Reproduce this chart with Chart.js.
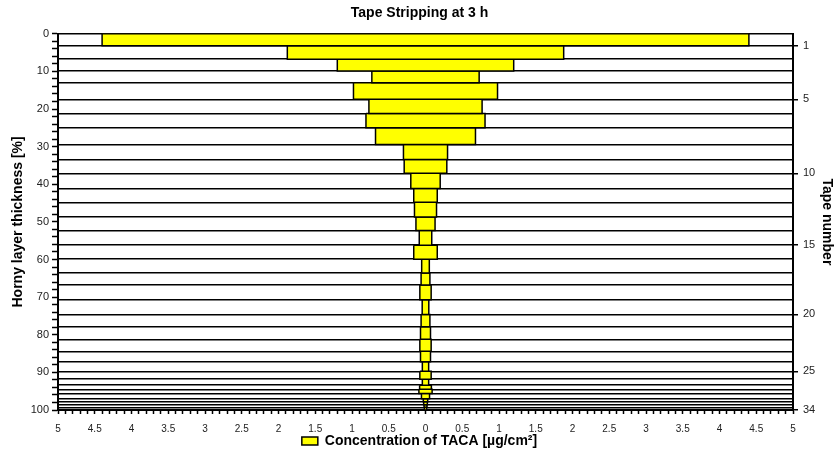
<!DOCTYPE html>
<html>
<head>
<meta charset="utf-8">
<script src="https://cdn.jsdelivr.net/npm/chart.js@4/dist/chart.umd.min.js"></script>
<style>
  html, body { margin: 0; padding: 0; background: #fff; }
  #wrap { width: 839px; height: 454px; }
</style>
</head>
<body>
<div id="wrap"><canvas id="tapeChart"></canvas></div>
<script>
// lower edge of each tape strip, in % of horny layer thickness
const tapeDepth = [
  3.2, 6.75, 9.9, 13.0, 17.4, 21.2, 25.0, 29.4, 33.4, 37.1,
  41.1, 44.8, 48.7, 52.3, 56.2, 59.9, 63.6, 66.8, 70.7, 74.6,
  77.9, 81.2, 84.4, 87.2, 89.7, 91.8, 93.4, 94.5, 95.6, 97.0,
  97.8, 98.6, 99.3, 100
];
// TACA found on each tape, µg/cm² (drawn mirrored around 0)
const tacaConc = [
  4.40, 1.88, 1.20, 0.73, 0.98, 0.77, 0.81, 0.68, 0.30, 0.29,
  0.20, 0.16, 0.15, 0.13, 0.085, 0.16, 0.052, 0.06, 0.077, 0.045,
  0.06, 0.068, 0.077, 0.068, 0.043, 0.077, 0.043, 0.08, 0.09, 0.055,
  0.03, 0.025, 0.02, 0.015
];
// tape numbers written on the right-hand axis
const labelledTapes = [1, 5, 10, 15, 20, 25, 34];

const FONT = "'Liberation Sans', Arial, sans-serif";
const edges = [0].concat(tapeDepth);

// each tape is a closed rectangle from -c to +c between its two depth edges
const datasets = tacaConc.map((c, i) => {
  const top = edges[i];
  const bottom = edges[i + 1];
  return {
    label: i === 0 ? "Concentration of TACA [µg/cm²]" : "",
    data: [
      { x: -c, y: top },
      { x: c, y: top },
      { x: c, y: bottom },
      { x: -c, y: bottom },
      { x: -c, y: top }
    ],
    showLine: true,
    fill: "shape",
    backgroundColor: "#ffff00",
    borderColor: "#000",
    borderWidth: 1.5,
    pointRadius: 0,
    xAxisID: "x",
    yAxisID: "y"
  };
});

new Chart(document.getElementById("tapeChart"), {
  type: "scatter",
  data: { datasets },
  options: {
    responsive: true,
    maintainAspectRatio: false,
    animation: false,
    layout: { padding: { left: 0, right: 0, top: 0, bottom: -4 } },
    plugins: {
      tooltip: { enabled: false },
      title: {
        display: true,
        text: "Tape Stripping at 3 h",
        color: "#000",
        font: { family: FONT, size: 14, weight: "bold" },
        padding: { top: 5, bottom: 12 }
      },
      legend: {
        position: "bottom",
        labels: {
          filter: (item) => item.datasetIndex === 0,
          color: "#000",
          boxWidth: 16,
          boxHeight: 8,
          padding: 2,
          font: { family: FONT, size: 14, weight: "bold" }
        }
      }
    },
    scales: {
      x: {
        type: "linear",
        position: "bottom",
        min: -5,
        max: 5,
        afterBuildTicks: (scale) => {
          const t = [];
          for (let i = -50; i <= 50; i++) t.push({ value: i / 10 });
          scale.ticks = t;
        },
        afterFit: (scale) => { scale.height = 22; },
        ticks: {
          autoSkip: false,
          maxRotation: 0,
          padding: 9,
          color: "#222",
          font: { family: FONT, size: 10 },
          callback: (v) => {
            const t = Math.round(v * 10);
            return t % 5 === 0 ? String(Math.abs(t) / 10) : "";
          }
        },
        grid: { drawOnChartArea: false, tickLength: 4, tickColor: "#000", tickWidth: 1.5 },
        border: { color: "#000", width: 2 }
      },
      y: {
        type: "linear",
        position: "left",
        reverse: true,
        min: 0,
        max: 100,
        afterBuildTicks: (scale) => {
          const t = [];
          for (let v = 0; v <= 100; v += 2) t.push({ value: v });
          scale.ticks = t;
        },
        afterFit: (scale) => { scale.width = 58; },
        title: {
          display: true,
          text: "Horny layer thickness [%]",
          color: "#000",
          font: { family: FONT, size: 14, weight: "bold" },
          padding: { top: 10, bottom: 0 }
        },
        ticks: {
          autoSkip: false,
          padding: 3,
          color: "#222",
          font: { family: FONT, size: 11 },
          callback: (v) => (v % 10 === 0 ? String(v) : "")
        },
        grid: { drawOnChartArea: false, tickLength: 6, tickColor: "#000", tickWidth: 1.5 },
        border: { color: "#000", width: 2 }
      },
      y2: {
        type: "linear",
        position: "right",
        reverse: true,
        min: 0,
        max: 100,
        afterBuildTicks: (scale) => {
          scale.ticks = edges.map((e) => ({ value: e }));
        },
        afterFit: (scale) => { scale.width = 46; },
        title: {
          display: true,
          text: "Tape number",
          color: "#000",
          font: { family: FONT, size: 14, weight: "bold" },
          padding: { top: 4, bottom: 0 }
        },
        ticks: {
          autoSkip: false,
          padding: 5,
          color: "#222",
          font: { family: FONT, size: 11 },
          callback: (v, i) => (labelledTapes.includes(i) ? String(i) : "")
        },
        grid: {
          drawOnChartArea: true,
          color: "#000",
          lineWidth: 1.5,
          tickLength: 5,
          tickColor: (ctx) => (labelledTapes.includes(ctx.index) ? "#000" : "rgba(0,0,0,0)")
        },
        border: { color: "#000", width: 2 }
      }
    }
  }
});
</script>
</body>
</html>
